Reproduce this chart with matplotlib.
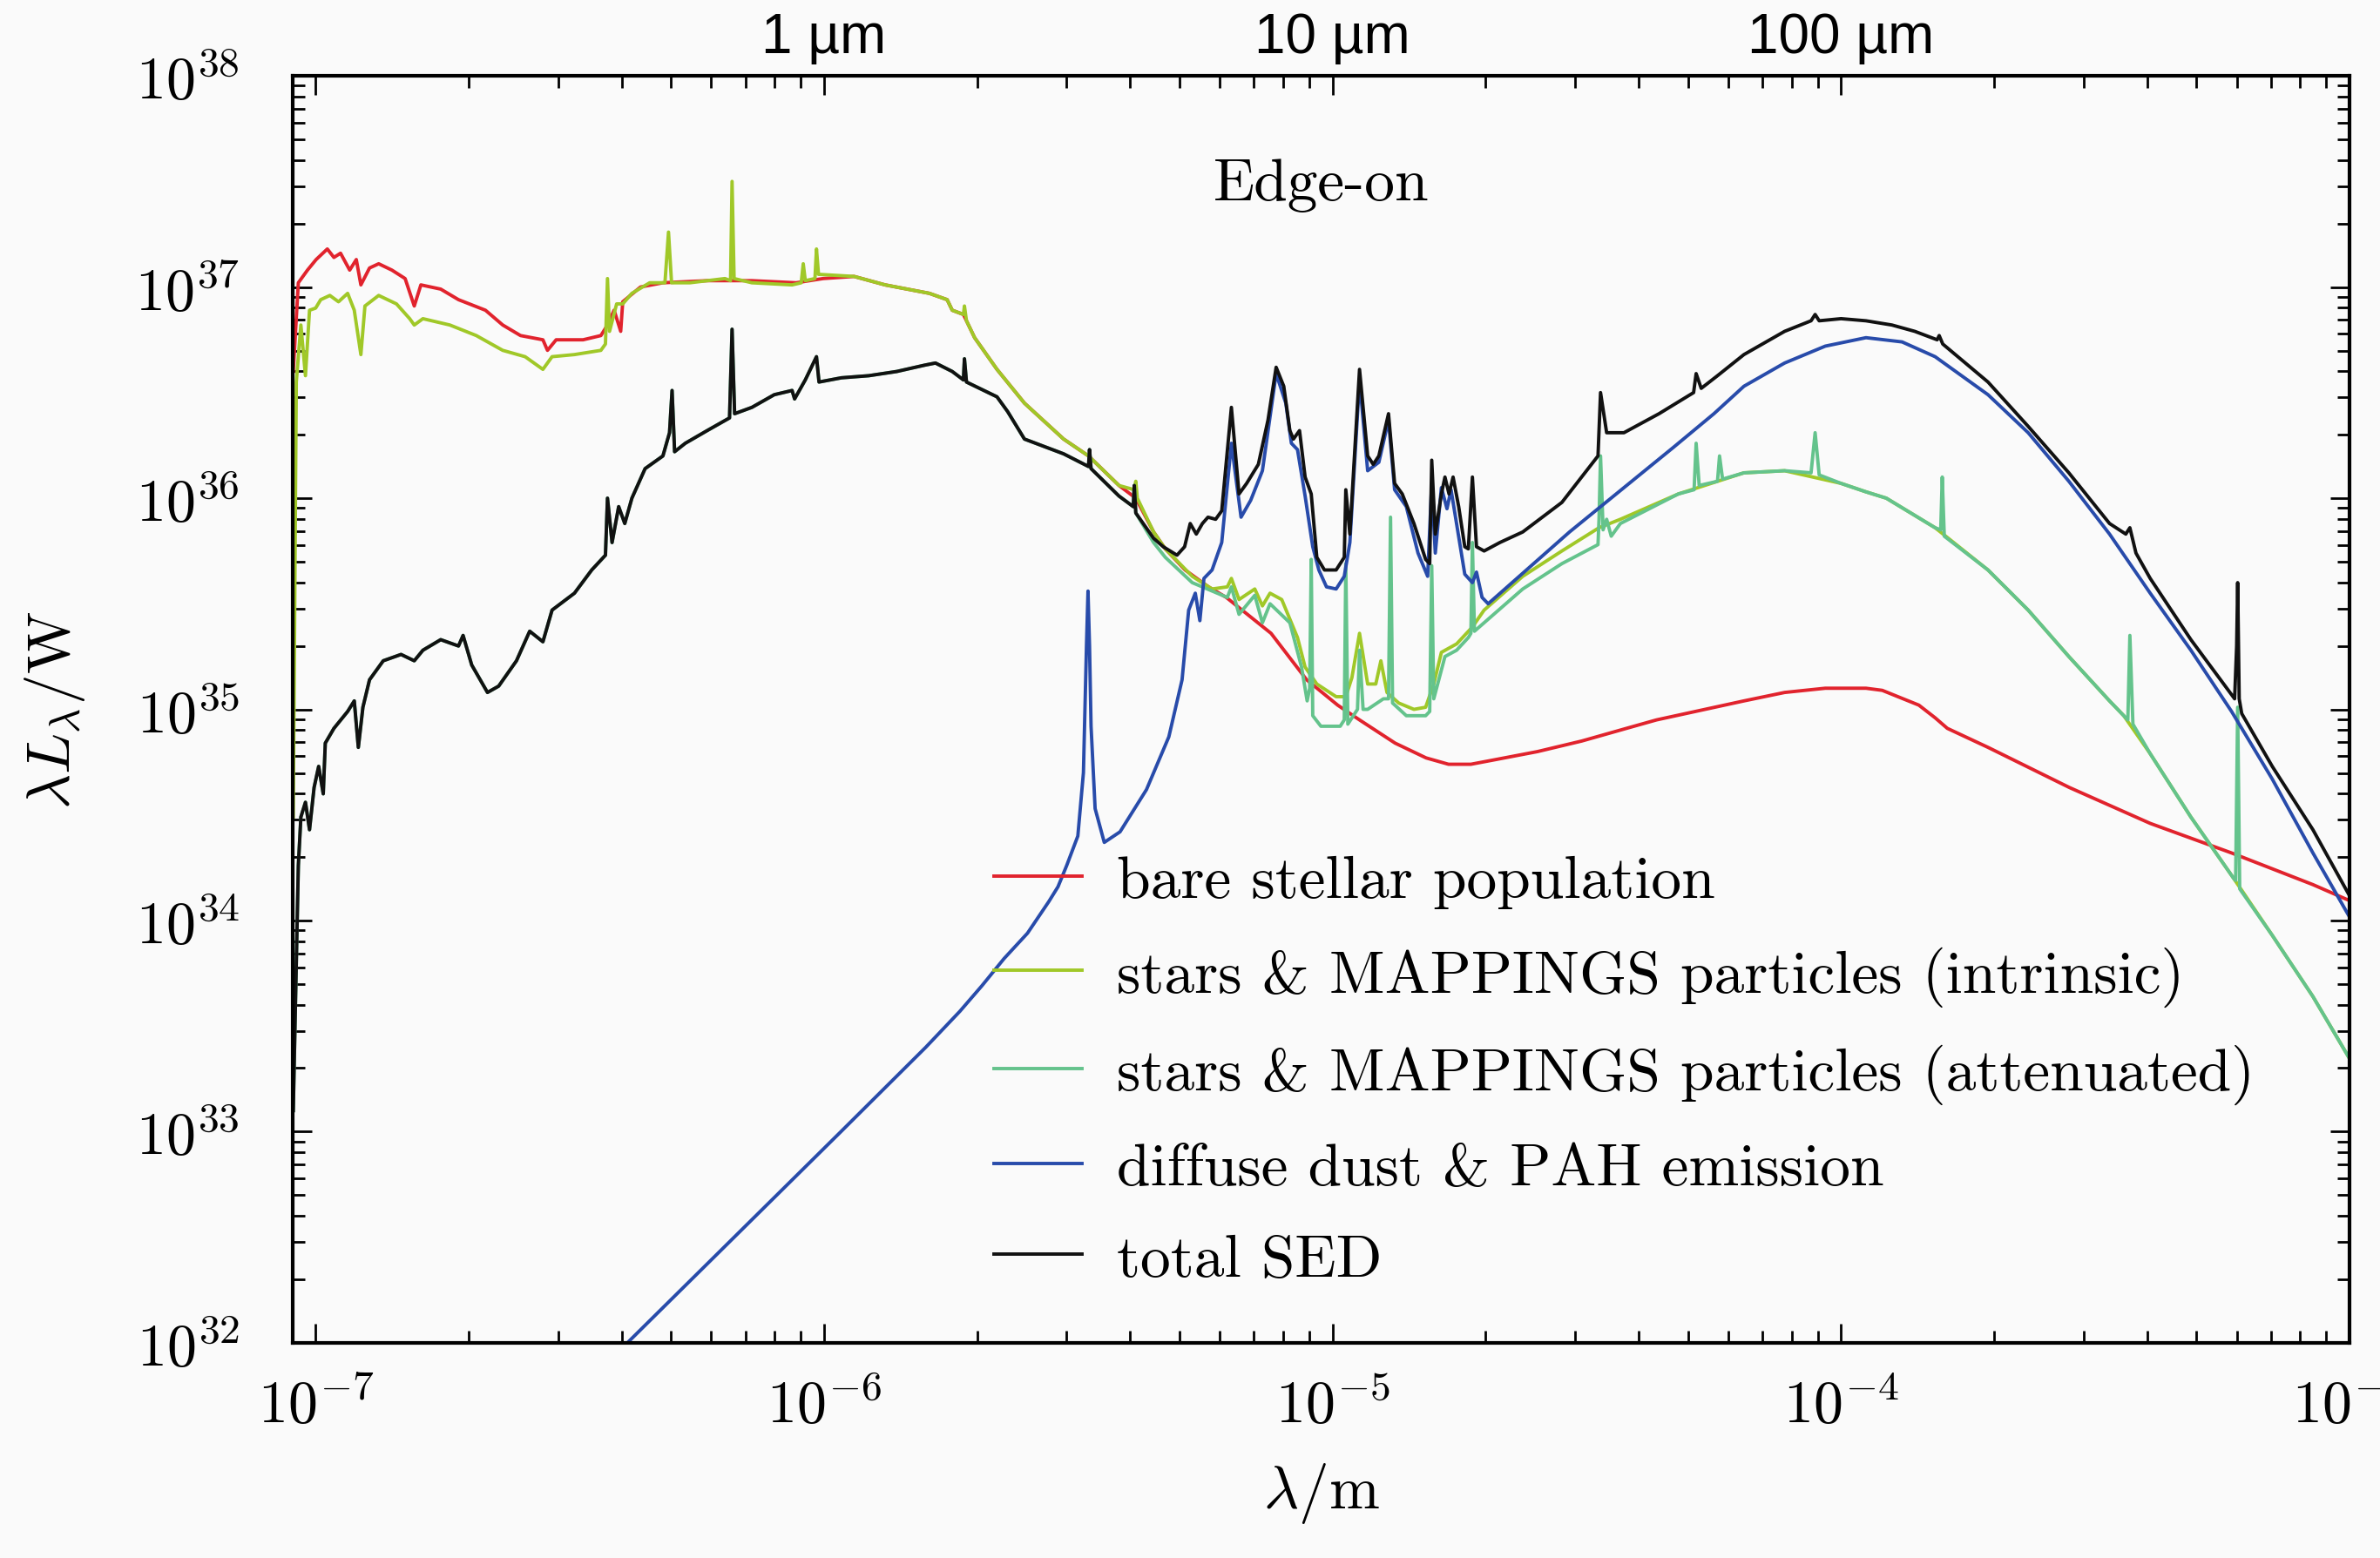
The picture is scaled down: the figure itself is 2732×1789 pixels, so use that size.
import matplotlib.pyplot as plt
import numpy as np
from matplotlib.ticker import FixedLocator, FuncFormatter, LogLocator, NullFormatter

plt.rcParams['mathtext.fontset'] = 'cm'

# all values are log10(wavelength / m) and log10(lambda L_lambda / W)

# bare stellar population
red_x = [-7.044, -7.034, -7.016, -6.999, -6.977, -6.964, -6.951, -6.933, -6.920, -6.911,
         -6.894, -6.876, -6.850, -6.824, -6.806, -6.793, -6.754, -6.719, -6.666, -6.632,
         -6.597, -6.553, -6.544, -6.527, -6.474, -6.439, -6.426, -6.413, -6.400, -6.396,
         -6.361, -6.317, -6.230, -6.142, -6.055, -6.002, -5.941, -5.880, -5.793, -5.758,
         -5.748, -5.726, -5.704, -5.660, -5.606, -5.529, -5.480, -5.420, -5.387, -5.352,
         -5.329, -5.290, -5.244, -5.209, -5.121, -5.051, -4.990, -4.947, -4.877, -4.816,
         -4.772, -4.728, -4.684, -4.597, -4.510, -4.422, -4.363, -4.191, -4.111, -4.031,
         -3.951, -3.919, -3.847, -3.815, -3.791, -3.711, -3.551, -3.392, -3.232, -3.072,
         -2.996]
red_y = [36.60, 37.02, 37.08, 37.13, 37.18, 37.14, 37.16, 37.08, 37.13, 37.01,
         37.09, 37.11, 37.08, 37.04, 36.91, 37.01, 36.99, 36.94, 36.89, 36.82,
         36.77, 36.75, 36.70, 36.75, 36.75, 36.77, 36.82, 36.89, 36.79, 36.93,
         37.00, 37.02, 37.03, 37.03, 37.02, 37.04, 37.05, 37.01, 36.97, 36.94,
         36.89, 36.87, 36.76, 36.61, 36.45, 36.28, 36.20, 36.06, 36.00, 35.84,
         35.76, 35.66, 35.58, 35.53, 35.36, 35.14, 35.02, 34.95, 34.84, 34.77,
         34.74, 34.74, 34.76, 34.80, 34.85, 34.91, 34.95, 35.04, 35.08, 35.10,
         35.10, 35.09, 35.02, 34.96, 34.91, 34.82, 34.63, 34.46, 34.32, 34.17,
         34.09]

# stars & MAPPINGS particles, intrinsic
yg_x = [-7.044, -7.038, -7.029, -7.020, -7.012, -7.000, -6.990, -6.972, -6.955, -6.937,
        -6.924, -6.911, -6.903, -6.876, -6.841, -6.815, -6.806, -6.789, -6.736, -6.684,
        -6.632, -6.588, -6.553, -6.535, -6.491, -6.439, -6.430, -6.426, -6.422, -6.408,
        -6.396, -6.378, -6.343, -6.313, -6.306, -6.300, -6.264, -6.195, -6.184, -6.181,
        -6.177, -6.142, -6.063, -6.045, -6.041, -6.037, -6.018, -6.015, -6.011, -5.941,
        -5.880, -5.793, -5.758, -5.748, -5.726, -5.724, -5.720, -5.704, -5.660, -5.606,
        -5.529, -5.480, -5.420, -5.390, -5.387, -5.384, -5.352, -5.329, -5.276, -5.237,
        -5.207, -5.199, -5.184, -5.153, -5.138, -5.123, -5.100, -5.069, -5.054, -5.031,
        -4.993, -4.974, -4.962, -4.947, -4.931, -4.915, -4.905, -4.893, -4.870, -4.840,
        -4.817, -4.801, -4.786, -4.756, -4.725, -4.702, -4.626, -4.549, -4.476, -4.434,
        -4.320, -4.191, -4.111, -4.000, -3.951, -3.911, -3.815, -3.711, -3.632, -3.552,
        -3.472, -3.444, -3.392, -3.312, -3.228, -3.152, -3.072, -2.996]
yg_y = [34.49, 36.55, 36.82, 36.58, 36.89, 36.90, 36.94, 36.96, 36.93, 36.97,
        36.89, 36.68, 36.91, 36.96, 36.92, 36.85, 36.82, 36.85, 36.82, 36.77,
        36.70, 36.67, 36.61, 36.67, 36.68, 36.70, 36.73, 37.04, 36.79, 36.92,
        36.92, 36.97, 37.02, 37.02, 37.26, 37.02, 37.02, 37.04, 37.03, 37.50,
        37.04, 37.02, 37.01, 37.02, 37.11, 37.03, 37.04, 37.18, 37.06, 37.05,
        37.01, 36.97, 36.94, 36.89, 36.87, 36.91, 36.84, 36.76, 36.61, 36.45,
        36.28, 36.20, 36.06, 36.04, 36.08, 36.00, 35.84, 35.76, 35.63, 35.57,
        35.58, 35.62, 35.52, 35.57, 35.49, 35.55, 35.52, 35.34, 35.20, 35.12,
        35.06, 35.06, 35.15, 35.36, 35.12, 35.12, 35.23, 35.08, 35.03, 35.00,
        35.01, 35.12, 35.27, 35.31, 35.39, 35.47, 35.63, 35.75, 35.86, 35.90,
        36.02, 36.12, 36.13, 36.07, 36.03, 36.00, 35.86, 35.66, 35.47, 35.25,
        35.04, 34.97, 34.79, 34.49, 34.20, 33.93, 33.64, 33.33]

# diffuse dust & PAH emission
blue_x = [-6.387, -5.967, -5.800, -5.733, -5.690, -5.646, -5.600, -5.558, -5.540, -5.523,
          -5.501, -5.490, -5.484, -5.481, -5.478, -5.475, -5.467, -5.449, -5.418, -5.366,
          -5.322, -5.296, -5.283, -5.270, -5.261, -5.253, -5.237, -5.218, -5.199, -5.180,
          -5.161, -5.138, -5.111, -5.092, -5.081, -5.069, -5.054, -5.039, -5.027, -5.012,
          -4.993, -4.977, -4.966, -4.947, -4.931, -4.909, -4.890, -4.878, -4.855, -4.832,
          -4.813, -4.805, -4.798, -4.786, -4.775, -4.767, -4.740, -4.725, -4.717, -4.706,
          -4.694, -4.534, -4.330, -4.250, -4.191, -4.111, -4.031, -3.951, -3.880, -3.815,
          -3.711, -3.632, -3.552, -3.472, -3.392, -3.312, -3.232, -3.152, -3.072, -2.996]
blue_y = [32.00, 33.00, 33.40, 33.57, 33.69, 33.82, 33.94, 34.09, 34.16, 34.26,
          34.40, 34.70, 35.30, 35.56, 35.30, 34.92, 34.53, 34.37, 34.42, 34.62,
          34.87, 35.14, 35.47, 35.55, 35.42, 35.62, 35.66, 35.79, 36.26, 35.91,
          35.99, 36.13, 36.59, 36.45, 36.26, 36.23, 36.01, 35.77, 35.66, 35.58,
          35.57, 35.63, 35.79, 36.56, 36.13, 36.17, 36.37, 36.04, 35.96, 35.74,
          35.63, 36.07, 35.74, 36.05, 35.95, 36.04, 35.64, 35.60, 35.65, 35.53,
          35.50, 35.84, 36.24, 36.40, 36.53, 36.64, 36.72, 36.76, 36.74, 36.67,
          36.49, 36.31, 36.08, 35.83, 35.55, 35.28, 34.99, 34.67, 34.32, 34.00]

# total SED
tot_x = [-7.044, -7.034, -7.029, -7.020, -7.012, -7.003, -6.994, -6.985, -6.981, -6.964,
         -6.937, -6.924, -6.916, -6.907, -6.894, -6.867, -6.832, -6.806, -6.789, -6.754,
         -6.719, -6.710, -6.693, -6.662, -6.640, -6.605, -6.579, -6.553, -6.535, -6.491,
         -6.457, -6.430, -6.426, -6.417, -6.404, -6.392, -6.378, -6.352, -6.317, -6.304,
         -6.299, -6.294, -6.273, -6.230, -6.186, -6.181, -6.176, -6.142, -6.098, -6.063,
         -6.058, -6.037, -6.015, -6.010, -5.966, -5.912, -5.857, -5.802, -5.781, -5.748,
         -5.726, -5.724, -5.720, -5.660, -5.639, -5.606, -5.584, -5.529, -5.480, -5.478,
         -5.475, -5.420, -5.392, -5.390, -5.387, -5.352, -5.333, -5.306, -5.291, -5.280,
         -5.268, -5.256, -5.245, -5.230, -5.218, -5.199, -5.184, -5.169, -5.146, -5.127,
         -5.111, -5.096, -5.084, -5.077, -5.065, -5.054, -5.042, -5.031, -5.016, -4.993,
         -4.977, -4.974, -4.966, -4.947, -4.931, -4.920, -4.909, -4.890, -4.878, -4.863,
         -4.840, -4.817, -4.809, -4.805, -4.798, -4.786, -4.779, -4.771, -4.763, -4.752,
         -4.740, -4.733, -4.725, -4.717, -4.702, -4.671, -4.626, -4.549, -4.478, -4.473,
         -4.461, -4.427, -4.358, -4.290, -4.285, -4.275, -4.243, -4.191, -4.111, -4.059,
         -4.051, -4.043, -4.000, -3.951, -3.900, -3.855, -3.811, -3.807, -3.800, -3.711,
         -3.632, -3.552, -3.472, -3.440, -3.432, -3.420, -3.392, -3.312, -3.226, -3.222,
         -3.220, -3.217, -3.212, -3.152, -3.072, -2.996]
tot_y = [33.10, 34.26, 34.49, 34.56, 34.43, 34.63, 34.73, 34.60, 34.84, 34.91,
         34.99, 35.04, 34.82, 35.01, 35.14, 35.23, 35.26, 35.23, 35.28, 35.33,
         35.30, 35.35, 35.21, 35.08, 35.11, 35.23, 35.37, 35.32, 35.47, 35.55,
         35.66, 35.73, 36.00, 35.79, 35.96, 35.88, 36.00, 36.14, 36.20, 36.31,
         36.51, 36.22, 36.26, 36.32, 36.38, 36.80, 36.40, 36.43, 36.49, 36.51,
         36.47, 36.56, 36.67, 36.55, 36.57, 36.58, 36.60, 36.63, 36.64, 36.60,
         36.56, 36.66, 36.55, 36.48, 36.41, 36.28, 36.26, 36.21, 36.15, 36.23,
         36.14, 36.01, 35.96, 36.06, 35.93, 35.81, 35.77, 35.73, 35.77, 35.88,
         35.83, 35.88, 35.91, 35.90, 35.94, 36.43, 36.02, 36.07, 36.16, 36.37,
         36.62, 36.53, 36.32, 36.28, 36.32, 36.10, 36.02, 35.72, 35.66, 35.66,
         35.72, 36.04, 35.83, 36.61, 36.20, 36.16, 36.20, 36.40, 36.07, 36.02,
         35.88, 35.71, 35.69, 36.18, 35.83, 36.02, 36.10, 36.02, 36.10, 35.96,
         35.77, 35.76, 36.10, 35.77, 35.75, 35.79, 35.84, 35.98, 36.20, 36.50,
         36.31, 36.31, 36.40, 36.50, 36.59, 36.52, 36.58, 36.68, 36.79, 36.84,
         36.87, 36.84, 36.85, 36.84, 36.82, 36.79, 36.75, 36.77, 36.73, 36.55,
         36.34, 36.12, 35.88, 35.83, 35.86, 35.74, 35.62, 35.33, 35.05, 35.30,
         35.60, 35.05, 34.98, 34.73, 34.43, 34.10]

# stars & MAPPINGS particles, attenuated (short of ~4 micron it coincides with the total SED)
att_x = [-5.352, -5.329, -5.276, -5.207, -5.199, -5.184, -5.153, -5.138, -5.123, -5.084,
         -5.061, -5.050, -5.045, -5.042, -5.039, -5.023, -4.985, -4.977, -4.974, -4.970,
         -4.951, -4.947, -4.940, -4.931, -4.900, -4.890, -4.886, -4.882, -4.855, -4.817,
         -4.809, -4.805, -4.801, -4.779, -4.756, -4.733, -4.728, -4.725, -4.721, -4.702,
         -4.626, -4.549, -4.478, -4.476, -4.473, -4.468, -4.461, -4.452, -4.434, -4.320,
         -4.289, -4.285, -4.279, -4.243, -4.239, -4.233, -4.191, -4.111, -4.059, -4.051,
         -4.043, -4.000, -3.951, -3.911, -3.815, -3.804, -3.801, -3.797, -3.711, -3.632,
         -3.552, -3.472, -3.444, -3.436, -3.432, -3.426, -3.392, -3.312, -3.228, -3.224,
         -3.220, -3.216, -3.152, -3.072, -2.996]
att_y = [35.79, 35.72, 35.60, 35.53, 35.58, 35.45, 35.54, 35.41, 35.50, 35.41,
         35.20, 35.04, 35.10, 35.71, 34.97, 34.92, 34.92, 34.95, 35.69, 34.93,
         35.00, 35.28, 35.00, 35.00, 35.05, 35.05, 35.91, 35.03, 34.97, 34.97,
         34.99, 35.68, 35.05, 35.25, 35.28, 35.34, 35.36, 35.79, 35.37, 35.41,
         35.57, 35.69, 35.78, 35.90, 36.20, 35.85, 35.90, 35.82, 35.88, 36.02,
         36.04, 36.26, 36.06, 36.08, 36.20, 36.09, 36.12, 36.13, 36.12, 36.31,
         36.11, 36.07, 36.03, 36.00, 35.86, 35.85, 36.10, 35.82, 35.66, 35.47,
         35.25, 35.04, 34.97, 34.95, 35.35, 34.93, 34.79, 34.49, 34.20, 34.19,
         35.01, 34.15, 33.93, 33.64, 33.33]

labels = ['bare stellar population',
          'stars & MAPPINGS particles (intrinsic)',
          'stars & MAPPINGS particles (attenuated)',
          'diffuse dust & PAH emission',
          'total SED']
colors = ['#e1232d', '#a0c828', '#64c38c', '#284baa', '#111111']

top_ticks = [1e-6, 1e-5, 1e-4]
top_labels = ['1 µm', '10 µm', '100 µm']

# attenuated curve: total SED below 4.5 micron, its own values beyond
n_uv = sum(1 for v in tot_x if v < -5.36)
att_full_x = tot_x[:n_uv] + att_x
att_full_y = tot_y[:n_uv] + att_y

series = [(red_x, red_y), (yg_x, yg_y), (att_full_x, att_full_y), (blue_x, blue_y), (tot_x, tot_y)]

bg = '#fafafa'
fig = plt.figure(figsize=(13.66, 8.95), dpi=200, facecolor=bg)
ax = fig.add_axes([0.123, 0.138, 0.8642, 0.8128], facecolor=bg)

for (xs, ys), c, lab in zip(series, colors, labels):
    ax.plot(10 ** np.array(xs), 10 ** np.array(ys), color=c, lw=1.4, label=lab)

ax.set_xscale('log')
ax.set_yscale('log')
ax.set_xlim(10 ** -7.045, 1e-3)
ax.set_ylim(1e32, 1e38)

pow_fmt = FuncFormatter(lambda v, p: r'$10^{%d}$' % int(round(np.log10(v))))
for axis in (ax.xaxis, ax.yaxis):
    axis.set_major_locator(LogLocator(base=10, numticks=20))
    axis.set_minor_locator(LogLocator(base=10, subs=np.arange(2, 10), numticks=20))
    axis.set_major_formatter(pow_fmt)
    axis.set_minor_formatter(NullFormatter())

ax.tick_params(which='both', direction='in', top=True, right=True, width=1.0, labelsize=24.5)
ax.tick_params(which='major', length=8)
ax.tick_params(which='minor', length=5)
ax.tick_params(axis='x', pad=14)
ax.tick_params(axis='y', pad=22)
for sp in ax.spines.values():
    sp.set_linewidth(1.5)

# wavelength markers above the frame
sec = ax.secondary_xaxis('top')
sec.xaxis.set_major_locator(FixedLocator(top_ticks))
sec.xaxis.set_minor_locator(FixedLocator([]))
sec.set_xticklabels(top_labels, family='Liberation Sans', fontsize=23)
sec.tick_params(length=0, pad=5)
sec.spines['top'].set_visible(False)

ax.set_xlabel(r'$\lambda/\mathrm{m}$', fontsize=25)
ax.set_ylabel(r'$\lambda L_\lambda/\mathrm{W}$', fontsize=25)
ax.xaxis.set_label_coords(0.5, -0.093)
ax.yaxis.set_label_coords(-0.10, 0.5)

ax.text(0.5, 0.914, 'Edge-on', transform=ax.transAxes, ha='center', va='center',
        family='cmr10', fontsize=25)

ax.legend(loc='upper left', bbox_to_anchor=(0.341, 0.385), frameon=False,
          prop={'family': 'cmr10', 'size': 25}, handlelength=1.45, handletextpad=0.58,
          labelspacing=0.62, borderpad=0, borderaxespad=0)

fig.savefig('out.png', dpi=200, facecolor=bg)
